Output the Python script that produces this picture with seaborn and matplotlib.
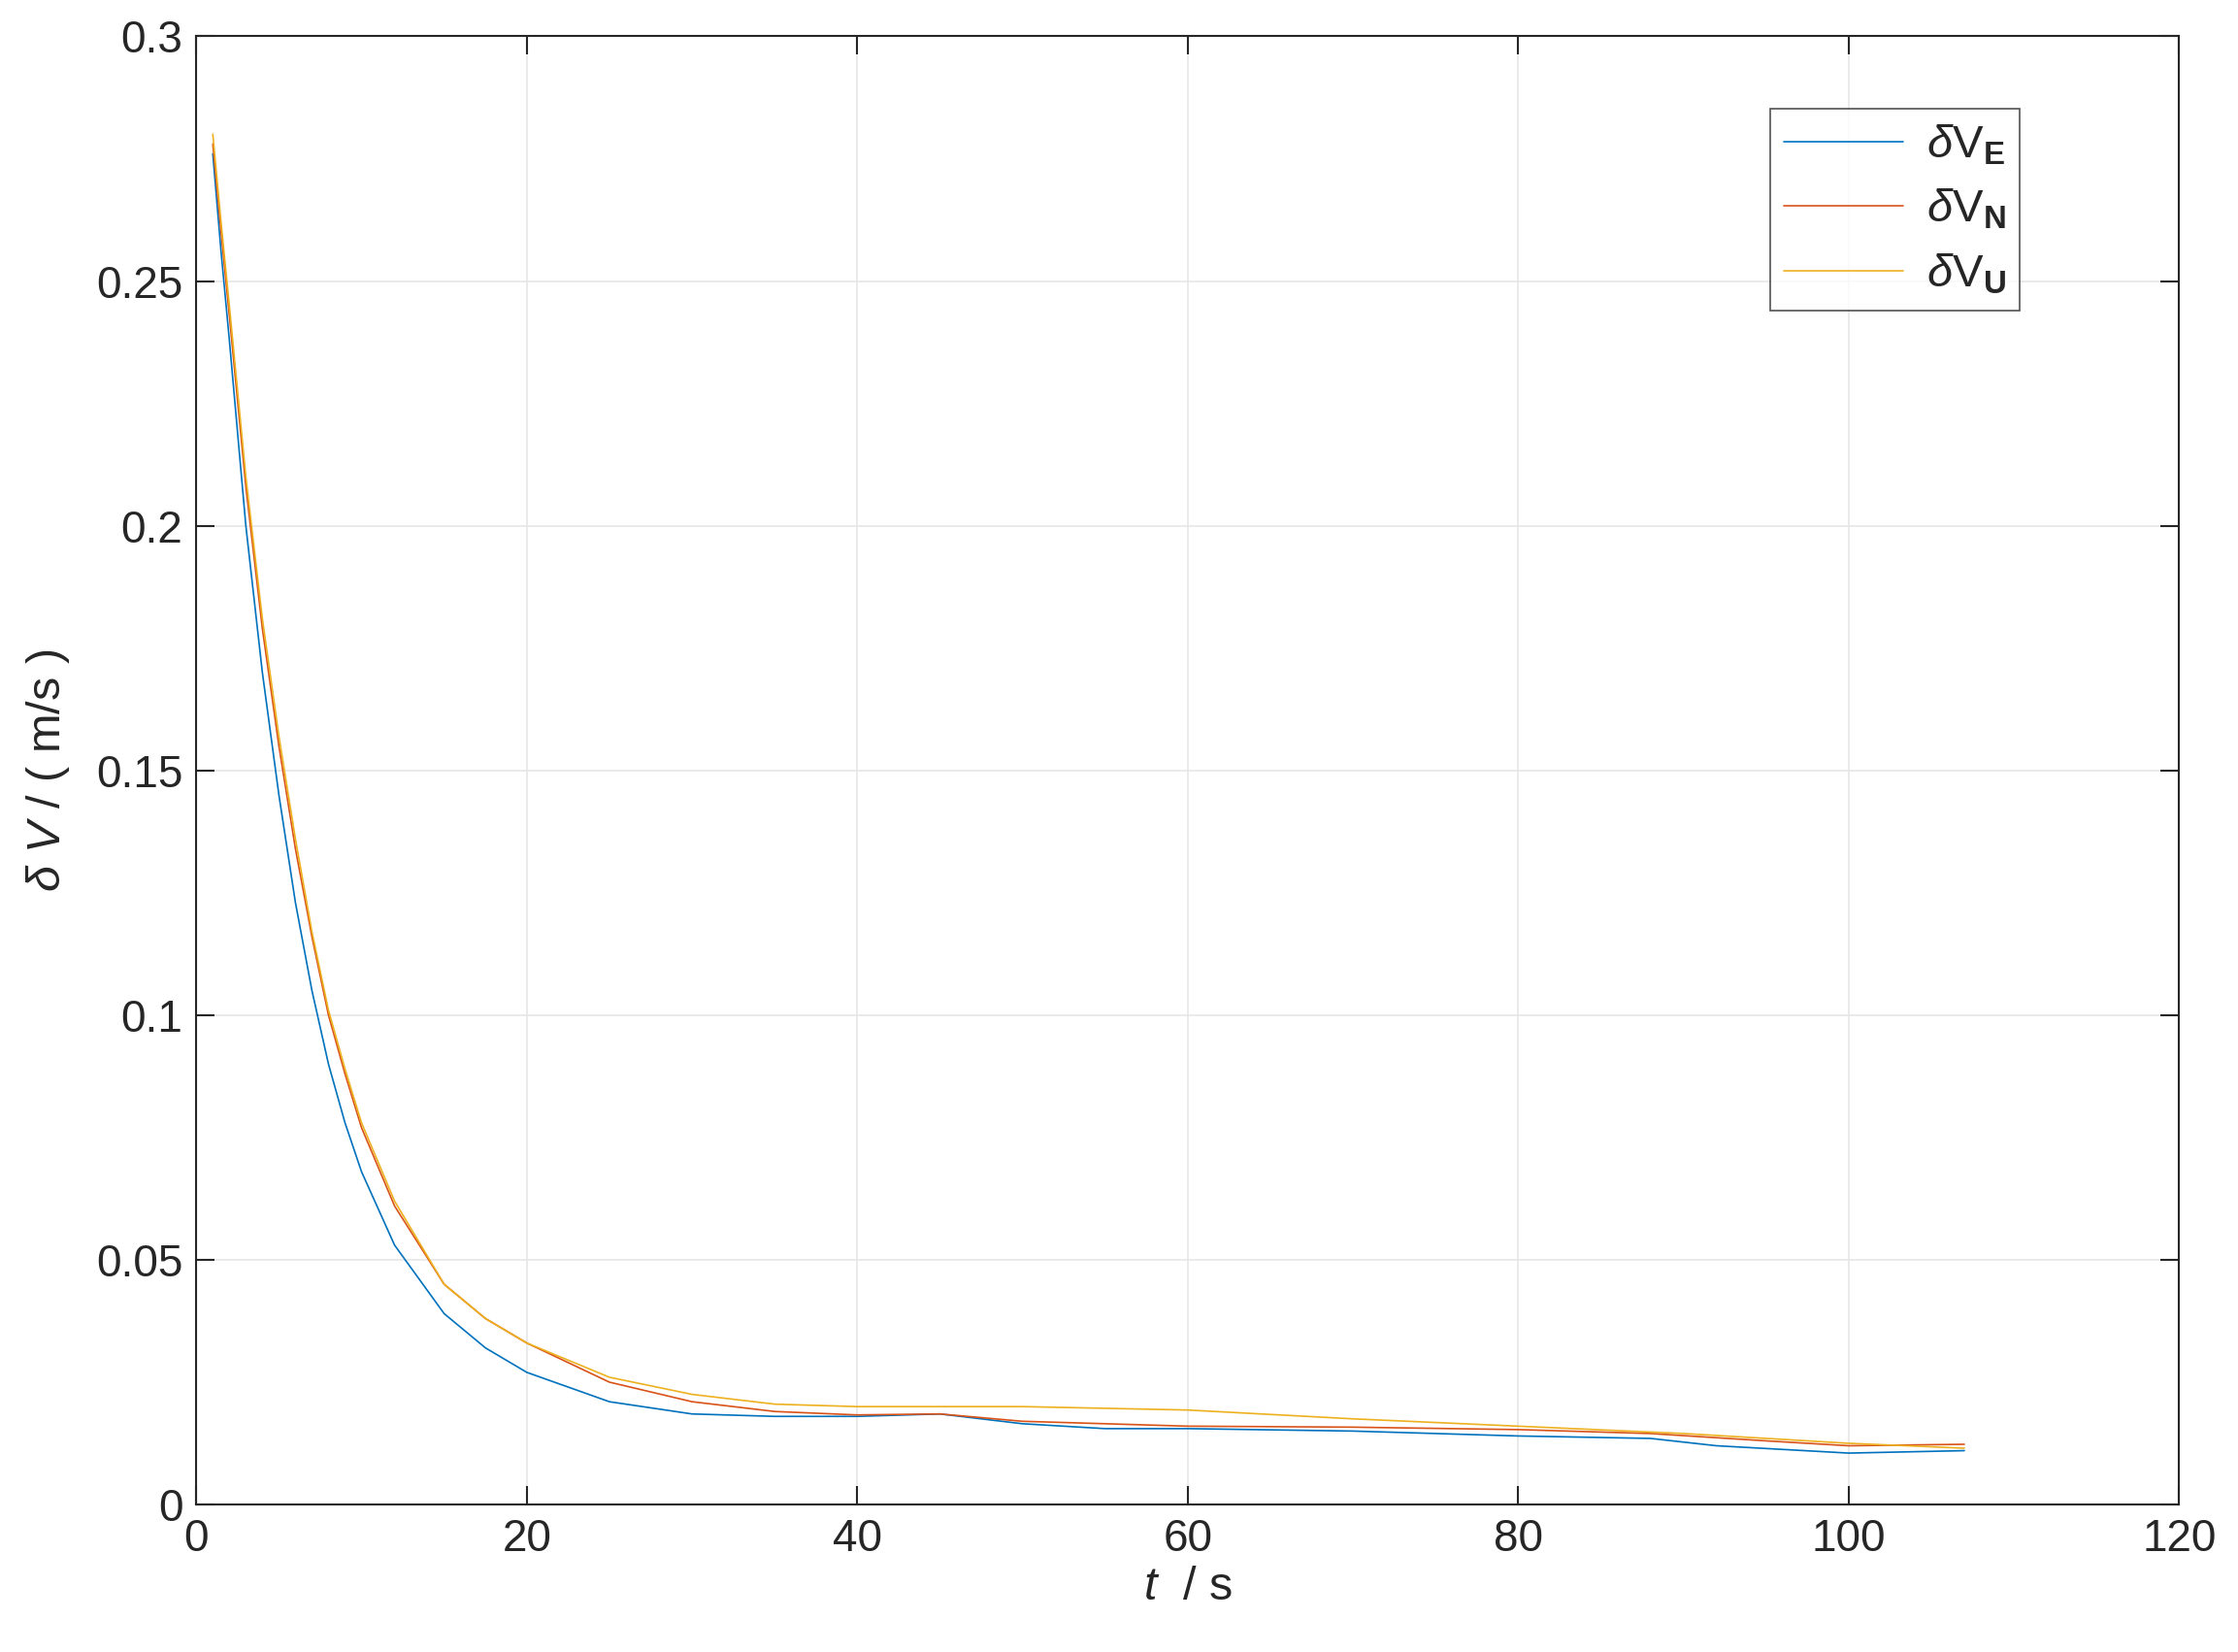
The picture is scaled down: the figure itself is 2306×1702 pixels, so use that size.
import seaborn as sns
from matplotlib import pyplot as plt
import pandas as pd

# values
t_e = [1, 1.5, 2, 3, 4, 5, 6, 7, 8, 9, 10, 12, 15, 17.5, 20, 25, 30, 35, 40, 45, 50, 55, 60, 70, 80, 88, 92, 100, 107]
v_e = [0.276, 0.256, 0.238, 0.200, 0.170, 0.145, 0.123, 0.105, 0.090, 0.078, 0.068, 0.053, 0.039, 0.032, 0.027,
       0.021, 0.0185, 0.018, 0.018, 0.0185, 0.0165, 0.0155, 0.0155, 0.015, 0.014, 0.0135, 0.012, 0.0105, 0.011]
t_n = [1, 1.5, 2, 3, 4, 5, 6, 7, 8, 9, 10, 12, 15, 17.5, 20, 25, 30, 35, 40, 45, 50, 60, 70, 80, 88, 95, 100, 107]
v_n = [0.278, 0.260, 0.243, 0.208, 0.179, 0.155, 0.134, 0.116, 0.100, 0.088, 0.077, 0.061, 0.045, 0.038, 0.033,
       0.025, 0.021, 0.019, 0.0183, 0.0185, 0.017, 0.016, 0.0158, 0.0153, 0.0145, 0.013, 0.012, 0.0123]
t_u = [1, 1.5, 2, 3, 4, 5, 6, 7, 8, 9, 10, 12, 15, 17.5, 20, 25, 30, 35, 40, 50, 60, 70, 80, 90, 100, 107]
v_u = [0.280, 0.262, 0.245, 0.210, 0.181, 0.157, 0.136, 0.117, 0.101, 0.089, 0.078, 0.062, 0.045, 0.038, 0.033,
       0.026, 0.0225, 0.0205, 0.020, 0.020, 0.0193, 0.0175, 0.016, 0.0145, 0.0125, 0.0115]

df = pd.concat([
    pd.DataFrame({'t': t_e, 'v': v_e, 'var': r'$\delta$V$_{\mathbf{E}}$'}),
    pd.DataFrame({'t': t_n, 'v': v_n, 'var': r'$\delta$V$_{\mathbf{N}}$'}),
    pd.DataFrame({'t': t_u, 'v': v_u, 'var': r'$\delta$V$_{\mathbf{U}}$'}),
])

sns.set_style('whitegrid')
plt.rcParams['font.family'] = ['Liberation Sans', 'DejaVu Sans']
plt.rcParams['mathtext.fontset'] = 'custom'
plt.rcParams['mathtext.rm'] = 'Liberation Sans'
plt.rcParams['mathtext.it'] = 'Liberation Sans:italic'
plt.rcParams['mathtext.bf'] = 'Liberation Sans:bold'

fig = plt.figure(figsize=(23.06, 17.02), dpi=100)
ax = fig.add_axes([0.0877, 0.0893, 0.886, 0.8887])
sns.lineplot(data=df, x='t', y='v', hue='var', sort=False, linewidth=1.2, ax=ax,
             palette=['#0072BD', '#D95319', '#EDB120'])

ax.set_xlim(0, 120)
ax.set_ylim(0, 0.3)
ax.set_xticks(range(0, 121, 20))
ax.set_yticks([0, 0.05, 0.1, 0.15, 0.2, 0.25, 0.3])
ax.set_yticklabels(['0', '0.05', '0.1', '0.15', '0.2', '0.25', '0.3'])
ax.grid(True, color='#e6e6e6', linewidth=1.2)
for s in ax.spines.values():
    s.set_color('#262626')
    s.set_linewidth(1.5)
ax.tick_params(direction='in', length=14, width=1.5, labelsize=33, colors='#262626',
               top=True, right=True, bottom=True, left=True, pad=10)
ax.set_xlabel(r'$\it{t}$  / s', fontsize=35, color='#262626')
ax.set_ylabel(r'$\delta$ $\it{V}$ / ( m/s )', fontsize=35, color='#262626', labelpad=18)

leg = ax.legend(loc='upper right', bbox_to_anchor=(0.931, 0.966), fontsize=34, frameon=True,
                fancybox=False, edgecolor='#262626', handlelength=2.6, title=None,
                borderpad=0.3, labelspacing=0.45, handletextpad=0.5)
leg.get_frame().set_linewidth(1.2)

fig.savefig('out.png', dpi=100)
